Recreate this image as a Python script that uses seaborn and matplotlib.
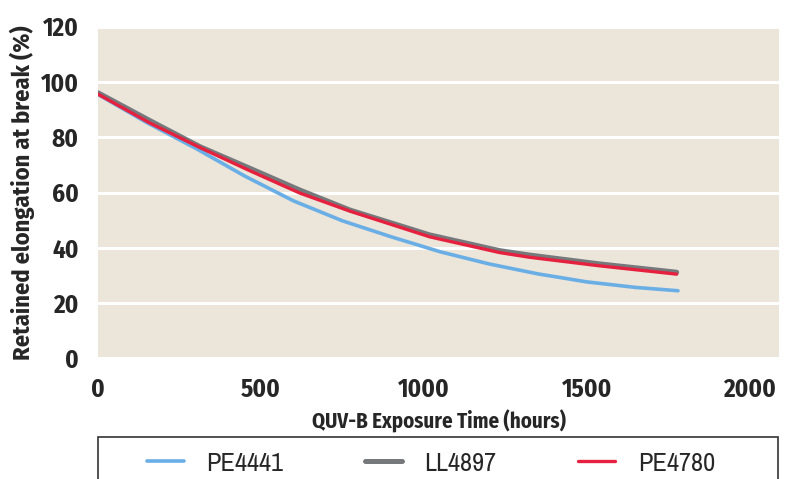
import matplotlib
matplotlib.use("Agg")
import matplotlib.pyplot as plt
from matplotlib.patches import Rectangle
import seaborn as sns
import pandas as pd

# readings taken from the reference curves
hours_pe4441 = [0, 150, 300, 450, 600, 750, 900, 1050, 1200, 1350, 1500, 1650, 1780]
pe4441 = [95.5, 85.3, 76.0, 66.0, 57.0, 49.8, 44.0, 38.6, 34.2, 30.6, 27.7, 25.7, 24.5]

hours = [0, 160, 313, 466, 620, 773, 1018, 1233, 1325, 1540, 1776]
ll4897 = [96.1, 86.0, 76.6, 68.8, 60.9, 53.7, 44.7, 39.0, 37.4, 34.2, 31.2]
pe4780 = [95.6, 85.1, 76.3, 67.9, 59.8, 53.3, 44.0, 38.3, 36.6, 33.5, 30.5]

series = ["PE4441", "LL4897", "PE4780"]
colors = {"PE4441": "#6aaee6", "LL4897": "#76797c", "PE4780": "#e5213f"}
widths = {"PE4441": 2.6, "LL4897": 3.6, "PE4780": 2.4}

yticks = [0, 20, 40, 60, 80, 100, 120]
xticks = [0, 500, 1000, 1500, 2000]

frames = [
    pd.DataFrame({"hours": hours_pe4441, "elong": pe4441, "grade": "PE4441"}),
    pd.DataFrame({"hours": hours, "elong": ll4897, "grade": "LL4897"}),
    pd.DataFrame({"hours": hours, "elong": pe4780, "grade": "PE4780"}),
]
long = pd.concat(frames, ignore_index=True)

sns.set_theme(style="white")
plt.rcParams["font.family"] = ["Fira Sans Condensed", "DejaVu Sans"]

fig = plt.figure(figsize=(7.89, 4.79), dpi=100)
ax = fig.add_axes([0.1242, 0.2516, 0.8631, 0.6927])
ax.set_facecolor("#ece5da")

for name in series:
    sub = long[long["grade"] == name]
    sns.lineplot(data=sub, x="hours", y="elong", ax=ax, color=colors[name],
                 linewidth=widths[name], label=name, legend=False)

ax.set_xlim(0, 2090)
ax.set_ylim(0, 120)
ax.set_xticks(xticks)
ax.set_yticks(yticks)
ax.yaxis.grid(True, color="white", linewidth=2.2)
ax.xaxis.grid(False)
ax.set_axisbelow(True)
for s in ax.spines.values():
    s.set_visible(False)
ax.tick_params(length=0, labelsize=18, pad=14)
for lab in ax.get_xticklabels() + ax.get_yticklabels():
    lab.set_fontweight("bold")

ax.set_xlabel("QUV-B Exposure Time (hours)", fontsize=15, fontweight="bold", labelpad=5)
ax.set_ylabel("Retained elongation at break (%)", fontsize=17.5, fontweight="bold", labelpad=4)

# legend box runs off the bottom edge like in the source
fig.patches.append(Rectangle((0.1242, -0.05), 0.8622, 0.1377, transform=fig.transFigure,
                             fill=False, edgecolor="#333333", linewidth=1.2))
handles, labels = ax.get_legend_handles_labels()
fig.legend(handles, labels, loc="center left", ncol=3, bbox_to_anchor=(0.1863, 0.0334),
           frameon=False, handlelength=1.4, handletextpad=0.85,
           columnspacing=3.1, borderpad=0, borderaxespad=0,
           prop={"family": ["Archivo Narrow", "DejaVu Sans"], "size": 19})

fig.savefig("out.png", dpi=100)
